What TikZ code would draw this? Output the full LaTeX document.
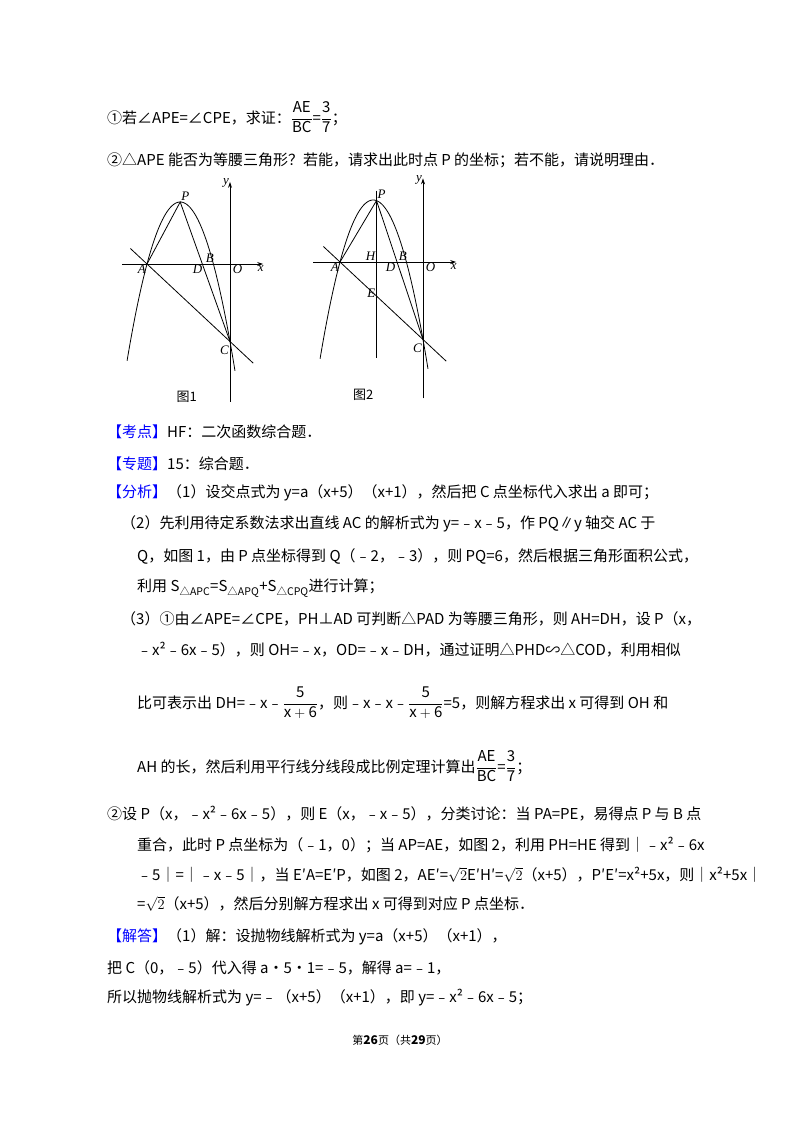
\documentclass[tikz,border=0pt]{standalone}
\usepackage{fontspec}
\setmainfont{Noto Sans CJK SC}
\newfontfamily\lblfont{Liberation Serif}
\tikzset{
 txt/.style={anchor=west,inner sep=0pt,font=\fontsize{15}{18}\selectfont},
 lbl/.style={inner sep=1pt,font=\fontsize{13}{14}\selectfont\lblfont\itshape},
 figcap/.style={inner sep=0pt,font=\fontsize{13}{14}\selectfont},
 curve/.style={line width=0.8pt},
 axis/.style={line width=0.8pt,-{Stealth[length=6pt,width=4pt]}}
}
\usetikzlibrary{arrows.meta}
\newcommand{\hdtag}[1]{\textcolor{blue}{【#1】}}
\newcommand{\fr}[2]{\raisebox{1pt}{$\displaystyle\frac{\mathrm{#1}}{\mathrm{#2}}$}}
\begin{document}
\begin{tikzpicture}[x=1pt,y=-1pt]
\useasboundingbox (0,0) rectangle (800,1132);
\fill[white] (0,0) rectangle (800,1132);
% text
\node[txt] (l1) at (107,117) {①若∠APE=∠CPE，求证：\fr{AE}{BC}=\fr{3}{7}；};
\node[txt] (l2) at (107,160) {②△APE 能否为等腰三角形？若能，请求出此时点 P 的坐标；若不能，请说明理由．};
% figure 1
\begin{scope}[shift={(230,264)},x=16.6pt,y=15.5pt]
 \draw[axis] (-6.5,0) -- (2,0);
 \draw[axis] (0,-8.9) -- (0,5.3);
 \draw[curve] plot[domain=-6.2:0.3,samples=80,smooth] (\x,{-\x*\x-6*\x-5});
 \coordinate (A1) at (-5,0); \coordinate (P1) at (-3,4); \coordinate (C1) at (0,-5);
 \coordinate (L1a) at (-6,1); \coordinate (L1b) at (1.4,-6.4);
 \draw[curve] (L1a) -- (L1b);
 \draw[curve] (A1) -- (P1) -- (C1);
 \node[lbl,anchor=south west] (pP1) at (-3,4) {P};
 \node[lbl,anchor=north east] (pA1) at (-5,0) {A};
 \node[lbl,anchor=north east] (pD1) at (-1.6,0) {D};
 \node[lbl,anchor=south east] (pB1) at (-0.9,0) {B};
 \node[lbl,anchor=north west] (pO1) at (0.1,0) {O};
 \node[lbl,anchor=north west] (px1) at (1.6,0) {x};
 \node[lbl,anchor=east] (py1) at (0,5.2) {y};
 \node[lbl,anchor=north east] (pC1) at (0,-5.2) {C};
 \node[figcap] (cap1) at (-2.6,-8.6) {图1};
\end{scope}
% figure 2
\begin{scope}[shift={(423,262)},x=16.6pt,y=15.5pt]
 \draw[axis] (-6.6,0) -- (2,0);
 \draw[axis] (0,-8.8) -- (0,5.4);
 \draw[curve] plot[domain=-6.2:0.3,samples=80,smooth] (\x,{-\x*\x-6*\x-5});
 \coordinate (A2) at (-5,0); \coordinate (P2) at (-2.8,3.96); \coordinate (C2) at (0,-5);
 \coordinate (V2a) at (-2.8,4.6); \coordinate (V2b) at (-2.8,-6.2);
 \coordinate (L2a) at (-6,1); \coordinate (L2b) at (1.4,-6.4);
 \draw[curve] (L2a) -- (L2b);
 \draw[curve] (V2a) -- (V2b);
 \draw[curve] (A2) -- (P2) -- (C2);
 \node[lbl,anchor=south west] (pP2) at (-2.8,4) {P};
 \node[lbl,anchor=north east] (pA2) at (-5,0) {A};
 \node[lbl,anchor=south east] (pH2) at (-2.8,0) {H};
 \node[lbl,anchor=north east] (pD2) at (-1.6,0) {D};
 \node[lbl,anchor=south east] (pB2) at (-0.9,0) {B};
 \node[lbl,anchor=north west] (pO2) at (0.1,0) {O};
 \node[lbl,anchor=north west] (px2) at (1.6,0) {x};
 \node[lbl,anchor=east] (py2) at (0,5.3) {y};
 \node[lbl,anchor=east] (pE2) at (-2.8,-2.0) {E};
 \node[lbl,anchor=north east] (pC2) at (0,-5.2) {C};
 \node[figcap] (cap2) at (-3.6,-8.6) {图2};
\end{scope}
\node[txt] (l3) at (107,432) {\hdtag{考点}HF：二次函数综合题．};
\node[txt] (l4) at (107,464) {\hdtag{专题}15：综合题．};
\node[txt] (l5) at (107,493) {\hdtag{分析}（1）设交点式为 y=a（x+5）（x+1），然后把 C 点坐标代入求出 a 即可；};
\node[txt] (l6) at (121,524) {（2）先利用待定系数法求出直线 AC 的解析式为 y=﹣x﹣5，作 PQ∥y 轴交 AC 于};
\node[txt] (l7) at (137,556) {Q，如图 1，由 P 点坐标得到 Q（﹣2，﹣3），则 PQ=6，然后根据三角形面积公式，};
\node[txt] (l8) at (137,588) {利用 S\textsubscript{△APC}=S\textsubscript{△APQ}+S\textsubscript{△CPQ}进行计算；};
\node[txt] (l9) at (121,619) {（3）①由∠APE=∠CPE，PH⊥AD 可判断△PAD 为等腰三角形，则 AH=DH，设 P（x，};
\node[txt] (l10) at (137,650) {﹣x²﹣6x﹣5），则 OH=﹣x，OD=﹣x﹣DH，通过证明△PHD∽△COD，利用相似};
\node[txt] (l11) at (137,703) {比可表示出 DH=﹣x﹣\fr{5}{x+6}，则﹣x﹣x﹣\fr{5}{x+6}=5，则解方程求出 x 可得到 OH 和};
\node[txt] (l12) at (137,766) {AH 的长，然后利用平行线分线段成比例定理计算出\fr{AE}{BC}=\fr{3}{7}；};
\node[txt] (l13) at (107,814) {②设 P（x，﹣x²﹣6x﹣5），则 E（x，﹣x﹣5），分类讨论：当 PA=PE，易得点 P 与 B 点};
\node[txt] (l14) at (137,845) {重合，此时 P 点坐标为（﹣1，0）；当 AP=AE，如图 2，利用 PH=HE 得到｜﹣x²﹣6x};
\node[txt] (l15) at (137,875) {﹣5｜=｜﹣x﹣5｜，当 E′A=E′P，如图 2，AE′=$\sqrt{2}$E′H′=$\sqrt{2}$（x+5），P′E′=x²+5x，则｜x²+5x｜};
\node[txt] (l16) at (137,904) {=$\sqrt{2}$（x+5），然后分别解方程求出 x 可得到对应 P 点坐标．};
\node[txt] (l17) at (107,937) {\hdtag{解答}（1）解：设抛物线解析式为 y=a（x+5）（x+1），};
\node[txt] (l18) at (107,968) {把 C（0，﹣5）代入得 a•5•1=﹣5，解得 a=﹣1，};
\node[txt] (l19) at (107,998) {所以抛物线解析式为 y=﹣（x+5）（x+1），即 y=﹣x²﹣6x﹣5；};
\node[inner sep=0pt,font=\fontsize{11}{13}\selectfont] (foot) at (400,1040) {第\textbf{\large 26}页（共\textbf{\large 29}页）};
\end{tikzpicture}
\end{document}
